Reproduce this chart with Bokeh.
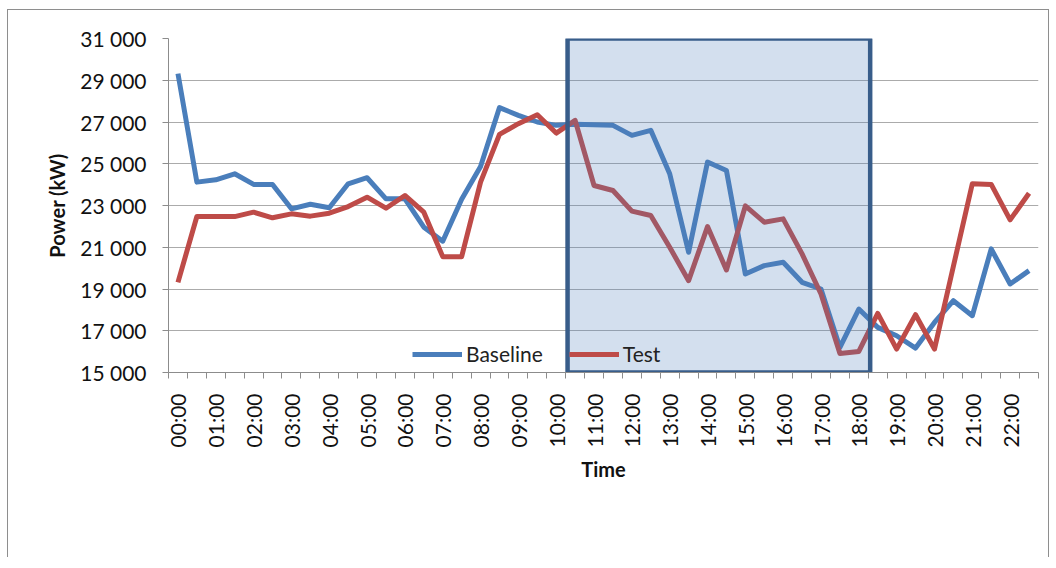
import math
from bokeh.plotting import figure
from bokeh.models import FixedTicker, Legend, LegendItem
from bokeh.embed import file_html
from bokeh.resources import INLINE

# ---- data -------------------------------------------------------------
times = ["%02d:%02d" % (h, m) for h in range(23) for m in (0, 30)]  # 00:00 .. 22:30 (46 half-hours)

baseline = [29320, 24120, 24230, 24520, 24010, 24010, 22840, 23060, 22890, 24040,
            24330, 23320, 23320, 21960, 21290, 23300, 24870, 27690, 27320, 27000,
            26840, 26890, 26870, 26840, 26360, 26600, 24520, 20760, 25080, 24680,
            19720, 20120, 20280, 19320, 19000, 16200, 18040, 17160, 16760, 16170,
            17400, 18440, 17720, 20920, 19240, 19880]

test = [19320, 22470, 22470, 22470, 22680, 22410, 22600, 22490, 22630, 22950,
        23400, 22870, 23480, 22680, 20550, 20550, 24120, 26410, 26920, 27350,
        26470, 27080, 23960, 23720, 22730, 22520, 21000, 19400, 21990, 19910,
        22980, 22200, 22360, 20680, 18760, 15910, 16010, 17830, 16120, 17770,
        16120, 20090, 24040, 24010, 22310, 23590]

y_ticks = [15000, 17000, 19000, 21000, 23000, 25000, 27000, 29000, 31000]
y_tick_labels = ["15 000", "17 000", "19 000", "21 000", "23 000", "25 000", "27 000", "29 000", "31 000"]

highlight_start = "10:30"   # highlighted test window (category boundaries)
highlight_end = "18:00"

# ---- figure -----------------------------------------------------------
FONT = "Lato"
idx = list(range(len(times)))

p = figure(frame_width=870, frame_height=334, output_backend="svg", toolbar_location=None,
           x_range=(-0.5, len(times) - 0.5), y_range=(y_ticks[0], y_ticks[-1]),
           min_border_left=160, min_border_top=28, min_border_right=10, min_border_bottom=185)
p.outline_line_color = None
p.xgrid.visible = False
p.ygrid.grid_line_color = "#ABABAB"
p.ygrid.grid_line_width = 1
p.ygrid.ticker = FixedTicker(ticks=y_ticks)
p.styles = {"margin-top": "9px", "margin-left": "7px",
            "border-top": "1px solid #8E8E8E", "border-left": "1px solid #8E8E8E",
            "border-right": "1px solid #8E8E8E"}

r_base = p.line(idx, baseline, line_color="#4A7EBB", line_width=5, line_join="round")
r_test = p.line(idx, test, line_color="#BE4B48", line_width=5, line_join="round")

# highlighted window drawn on top (semi-transparent fill)
x0 = times.index(highlight_start) - 0.5
x1 = times.index(highlight_end) + 0.5
p.quad(left=[x0 + 0.1], right=[x1 + 0.1], bottom=[y_ticks[0]], top=[y_ticks[-1]],
       fill_color="#4F81BD", fill_alpha=0.25, line_color="#385D8A", line_width=4.5)

# x axis
xa = p.xaxis[0]
xa.ticker = FixedTicker(ticks=list(range(0, len(times), 2)),
                        minor_ticks=[i - 0.5 for i in range(len(times) + 1)])
xa.major_label_overrides = {i: times[i] for i in range(0, len(times), 2)}
xa.major_label_orientation = math.pi / 2
xa.major_tick_out = 0
xa.major_tick_in = 0
xa.minor_tick_out = 6
xa.minor_tick_in = 0
xa.minor_tick_line_color = "#8C8C8C"
xa.axis_line_color = "#8C8C8C"
xa.major_label_standoff = 15
xa.major_label_text_font = FONT
xa.major_label_text_font_size = "21px"
xa.major_label_text_color = "#111111"
xa.axis_label = "Time"
xa.axis_label_text_font = FONT
xa.axis_label_text_font_style = "bold"
xa.axis_label_text_font_size = "20px"
xa.axis_label_text_color = "#111111"
xa.axis_label_standoff = 7

# y axis
ya = p.yaxis[0]
ya.ticker = FixedTicker(ticks=y_ticks, minor_ticks=[])
ya.major_label_overrides = dict(zip(y_ticks, y_tick_labels))
ya.major_tick_out = 6
ya.major_tick_in = 0
ya.major_tick_line_color = "#8C8C8C"
ya.axis_line_color = "#8C8C8C"
ya.major_label_standoff = 16
ya.major_label_text_font = FONT
ya.major_label_text_font_size = "21px"
ya.major_label_text_color = "#111111"
ya.axis_label = "Power (kW)"
ya.axis_label_text_font = FONT
ya.axis_label_text_font_style = "bold"
ya.axis_label_text_font_size = "20px"
ya.axis_label_text_color = "#111111"
ya.axis_label_standoff = 8

legend = Legend(items=[LegendItem(label="Baseline", renderers=[r_base]),
                       LegendItem(label="Test", renderers=[r_test])],
                orientation="horizontal", location=(244, 6),
                glyph_width=50, glyph_height=20, label_standoff=4, spacing=26,
                padding=0, margin=0, border_line_color=None, background_fill_alpha=0,
                label_text_font=FONT, label_text_font_size="21px", label_text_color="#222222")
p.add_layout(legend, "center")

open("out.html", "w").write(file_html(p, INLINE))
